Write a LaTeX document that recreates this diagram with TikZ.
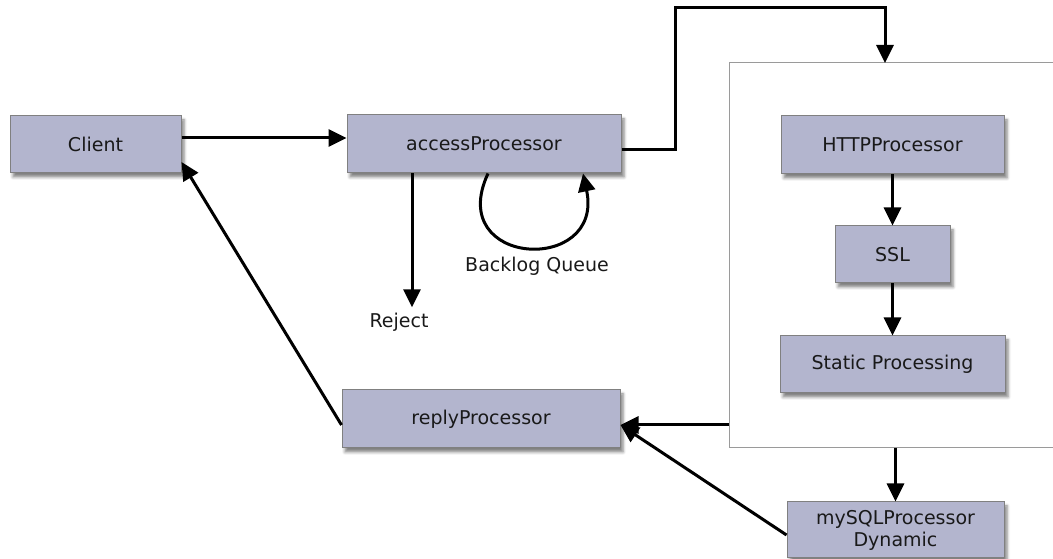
\documentclass[tikz,border=0pt]{standalone}
\usepackage{fontspec}
\setmainfont{DejaVu Sans}
\usetikzlibrary{arrows.meta,shadows.blur}

\definecolor{boxfill}{HTML}{B3B5CE}
\definecolor{boxline}{HTML}{808080}
\definecolor{grpline}{HTML}{9A9A9A}

\begin{document}
\begin{tikzpicture}[x=1pt,y=1pt,
  proc/.style={draw=boxline,line width=1pt,fill=boxfill,text=black!90,
    font=\fontsize{19}{22}\selectfont,align=center,inner sep=0pt,
    blur shadow={shadow xshift=3pt,shadow yshift=-4pt,shadow blur radius=3pt,shadow opacity=50}},
  flow/.style={line width=3pt,-{Triangle[length=18pt,width=17pt]}},
  lbl/.style={font=\fontsize{19}{22}\selectfont,text=black!90}]
\useasboundingbox (0,0) rectangle (1053,559);
\draw[draw=grpline,line width=1pt] (1060,496) -- (729,496) -- (729,111) -- (1060,111);
\coordinate (grptop) at (885,496);
\coordinate (grpleft) at (729,134);
\coordinate (grpbot) at (895.5,111);
\node[proc,minimum width=171pt,minimum height=57pt] (client) at (95.5,414.5) {Client};
\node[proc,minimum width=274pt,minimum height=58pt] (access) at (484,415) {accessProcessor};
\node[proc,minimum width=223pt,minimum height=58pt] (http) at (892.5,414) {HTTPProcessor};
\node[proc,minimum width=115pt,minimum height=57pt] (ssl) at (892.5,304.5) {SSL};
\node[proc,minimum width=225pt,minimum height=57pt] (static) at (892.5,194.5) {Static Processing};
\node[proc,minimum width=278pt,minimum height=58pt] (reply) at (481,140) {replyProcessor};
\node[proc,minimum width=217pt,minimum height=56pt] (mysql) at (895.5,29) {mySQLProcessor\\Dynamic};
\node[lbl] (reject) at (399,237) {Reject};
\node[lbl] (backlog) at (537,293) {Backlog Queue};
\draw[flow] ([yshift=6.5pt]client.east) -- ([yshift=6pt]access.west);
\draw[flow] ([yshift=-6pt]access.east) -- ++(54,0) |- (885,551) -- (grptop);
\draw[flow] ([xshift=-72pt]access.south) -- ([xshift=13pt,yshift=2pt]reject.north);
\draw[flow] ([xshift=4pt]access.south) to[out=-115,in=-78,looseness=2.8] ([xshift=99pt]access.south);
\draw[flow] (http) -- (ssl);
\draw[flow] (ssl) -- (static);
\draw[flow] (grpbot) -- (mysql);
\draw[flow] (grpleft) -- ([yshift=-6pt]reply.east);
\draw[flow] ([yshift=-5pt]mysql.west) -- ([yshift=-6pt]reply.east);
\draw[flow] ([yshift=-6pt]reply.west) -- ([yshift=-17.5pt]client.east);
\end{tikzpicture}
\end{document}
